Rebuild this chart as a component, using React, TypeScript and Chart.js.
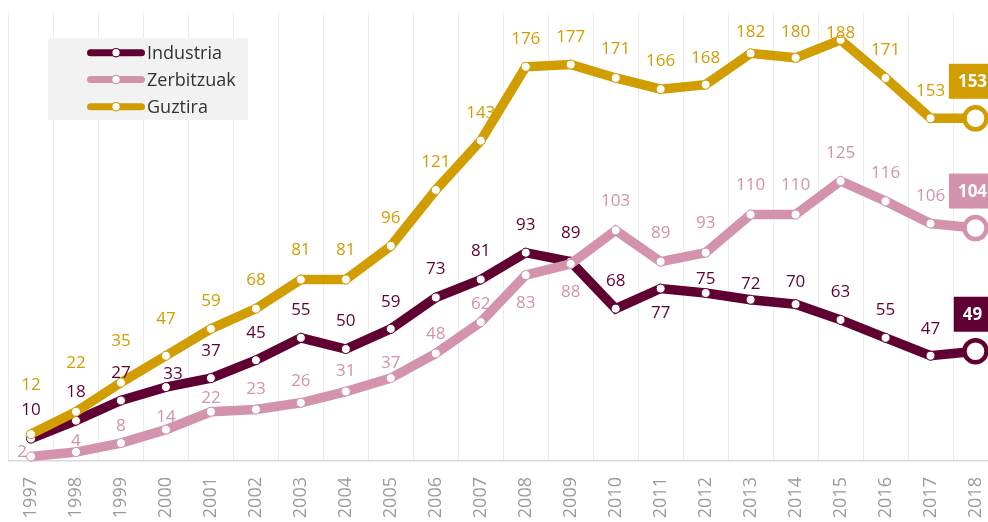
import React, { useEffect, useRef } from 'react';
import { Chart, registerables } from 'chart.js';

Chart.register(...registerables);

// ---------- data ----------
const years = ['1997', '1998', '1999', '2000', '2001', '2002', '2003', '2004', '2005', '2006', '2007',
  '2008', '2009', '2010', '2011', '2012', '2013', '2014', '2015', '2016', '2017', '2018'];

const industria = [10, 18, 27, 33, 37, 45, 55, 50, 59, 73, 81, 93, 89, 68, 77, 75, 72, 70, 63, 55, 47, 49];
const zerbitzuak = [2, 4, 8, 14, 22, 23, 26, 31, 37, 48, 62, 83, 88, 103, 89, 93, 110, 110, 125, 116, 106, 104];
const guztira = [12, 22, 35, 47, 59, 68, 81, 81, 96, 121, 143, 176, 177, 171, 166, 168, 182, 180, 188, 171, 153, 153];

const seriesNames = ['Industria', 'Zerbitzuak', 'Guztira'];

// ---------- styles ----------
const COLORS = ['#600032', '#d393ad', '#d19d00'];
const FONT = '"Open Sans", "Noto Sans", sans-serif';

// label placement (pixel offsets from the point, label centre)
const industriaLabelDy = [-29, -30, -28, -14, -28, -28, -29, -29, -28, -29, -29, -29, -29, -29, 24, -15, -17, -23, -29, -29, -28, 0];
const industriaLabelDx = [0, 0, 0, 7, 0, 0, 0, 0, 0, 0, 0, 0, 0, 0, 0, 0, 0, 0, 0, 0, 0, 0];
const zerbitzuakLabelDy = [-5, -12, -18, -13, -15, -21, -23, -21, -16, -20, -19, 27, 27, -30, -29, -31, -30, -30, -29, -29, -28, 0];
const zerbitzuakLabelDx = [-9, 0, 0, 0, 0, 0, 0, 0, 0, 0, 0, 0, 0, 0, 0, 0, 0, 0, 0, 0, 0, 0];
const guztiraLabelDy = [-50, -50, -42, -38, -29, -30, -30, -30, -29, -29, -29, -29, -28, -30, -29, -28, -22, -27, -8, -29, -28, 0];
const guztiraLabelDx = [0, 0, 0, 0, 0, 0, 0, 0, 0, 0, 0, 0, 0, 0, 0, 0, 0, 0, 0, 0, 0, 0];

const labelDy = [industriaLabelDy, zerbitzuakLabelDy, guztiraLabelDy];
const labelDx = [industriaLabelDx, zerbitzuakLabelDx, guztiraLabelDx];

const valueLabelPlugin = {
  id: 'valueLabels',
  afterDatasetsDraw(chart: any) {
    const ctx = chart.ctx as CanvasRenderingContext2D;
    chart.data.datasets.forEach((ds: any, di: number) => {
      const meta = chart.getDatasetMeta(di);
      const color = COLORS[di];
      const n = ds.data.length;
      meta.data.forEach((pt: any, i: number) => {
        const text = String(ds.data[i]);
        ctx.save();
        ctx.textAlign = 'center';
        ctx.textBaseline = 'middle';
        if (i === n - 1) {
          ctx.font = `bold 17px ${FONT}`;
          const w = ctx.measureText(text).width + 18;
          const h = 35;
          const cx = pt.x - 3;
          const cy = pt.y - 37;
          ctx.fillStyle = color;
          ctx.fillRect(cx - w / 2, cy - h / 2, w, h);
          ctx.fillStyle = '#ffffff';
          ctx.fillText(text, cx, cy + 1);
        } else {
          ctx.font = `17px ${FONT}`;
          ctx.fillStyle = color;
          ctx.fillText(text, pt.x + labelDx[di][i], pt.y + labelDy[di][i] + 1);
        }
        ctx.restore();
      });
    });
  },
};

const legendPlugin = {
  id: 'customLegend',
  beforeDatasetsDraw(chart: any) {
    const ctx = chart.ctx as CanvasRenderingContext2D;
    ctx.save();
    ctx.fillStyle = '#f2f2f2';
    ctx.fillRect(48, 38, 200, 82);
    const rows = [52.7, 79.5, 106.7];
    seriesNames.forEach((name, i) => {
      const y = rows[i];
      ctx.strokeStyle = COLORS[i];
      ctx.lineWidth = 7;
      ctx.lineCap = 'round';
      ctx.beginPath();
      ctx.moveTo(90.5, y);
      ctx.lineTo(141.5, y);
      ctx.stroke();
      ctx.beginPath();
      ctx.arc(116, y, 4.2, 0, Math.PI * 2);
      ctx.fillStyle = '#ffffff';
      ctx.fill();
      ctx.lineWidth = 1.2;
      ctx.stroke();
      ctx.fillStyle = '#333333';
      ctx.font = `18px ${FONT}`;
      ctx.textAlign = 'left';
      ctx.textBaseline = 'middle';
      ctx.fillText(name, 147, y + 1);
    });
    ctx.restore();
  },
};

function makeDataset(label: string, data: number[], idx: number, order: number) {
  const last = data.length - 1;
  return {
    label,
    data,
    order,
    borderColor: COLORS[idx],
    backgroundColor: COLORS[idx],
    borderWidth: 9.5,
    borderJoinStyle: 'miter' as const,
    borderCapStyle: 'round' as const,
    tension: 0,
    pointRadius: (c: any) => (c.dataIndex === last ? 11 : 4.5),
    pointBorderWidth: (c: any) => (c.dataIndex === last ? 4.5 : 1),
    pointBackgroundColor: '#ffffff',
    pointBorderColor: COLORS[idx],
    clip: false as any,
  };
}

export default function App() {
  const canvasRef = useRef<HTMLCanvasElement | null>(null);

  useEffect(() => {
    if (!canvasRef.current) return;
    const chart = new Chart(canvasRef.current, {
      type: 'line',
      data: {
        labels: years,
        datasets: [
          makeDataset(seriesNames[0], industria, 0, 3),
          makeDataset(seriesNames[1], zerbitzuak, 1, 2),
          makeDataset(seriesNames[2], guztira, 2, 1),
        ],
      },
      options: {
        responsive: false,
        animation: false,
        events: [],
        layout: { autoPadding: false, padding: { left: 8.5, right: 2, top: 13, bottom: 0 } },
        plugins: {
          legend: { display: false },
          tooltip: { enabled: false },
          title: { display: false },
        },
        scales: {
          x: {
            type: 'category',
            offset: true,
            grid: {
              display: true,
              offset: true,
              color: '#ececec',
              lineWidth: 1,
              drawTicks: false,
            },
            border: { display: true, color: '#d9d9d9', width: 1.5 },
            ticks: {
              minRotation: 90,
              maxRotation: 90,
              padding: 16,
              color: '#9c9c9c',
              font: { family: FONT, size: 18 },
              autoSkip: false,
            },
            afterFit: (scale: any) => {
              scale.height = 61;
              scale.paddingLeft = 0;
              scale.paddingRight = 0;
            },
          },
          y: {
            display: false,
            min: 0,
            max: 200,
          },
        },
      },
      plugins: [legendPlugin, valueLabelPlugin],
    });
    return () => chart.destroy();
  }, []);

  return (
    <div style={{ position: 'fixed', left: 0, top: 0, width: 988, height: 522, overflow: 'hidden', background: '#ffffff' }}>
      <canvas ref={canvasRef} width={1000} height={522} style={{ width: 1000, height: 522, display: 'block' }} />
    </div>
  );
}
